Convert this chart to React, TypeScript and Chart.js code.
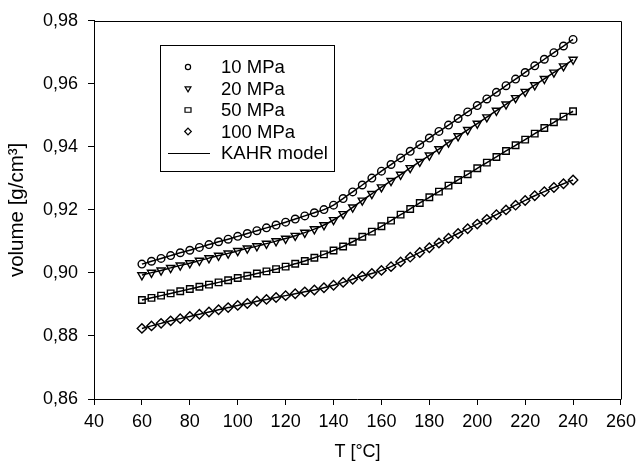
import React, { useEffect, useRef } from "react";
import { Chart, registerables } from "chart.js";

Chart.register(...registerables);

const temperatures = [
  60, 64, 68, 72, 76, 80, 84, 88, 92, 96, 100, 104, 108, 112, 116, 120, 124, 128, 132, 136,
  140, 144, 148, 152, 156, 160, 164, 168, 172, 176, 180, 184, 188, 192, 196, 200, 204, 208,
  212, 216, 220, 224, 228, 232, 236, 240,
];

const mpa10 = [
  0.9028, 0.9037, 0.9046, 0.9055, 0.9064, 0.9072, 0.9081, 0.909, 0.9099, 0.9107, 0.9116,
  0.9125, 0.9134, 0.9143, 0.9152, 0.9161, 0.9171, 0.9181, 0.9191, 0.9201, 0.9215, 0.9236,
  0.9257, 0.9279, 0.9301, 0.9323, 0.9344, 0.9365, 0.9386, 0.9407, 0.9428, 0.9449, 0.9469,
  0.949, 0.9511, 0.9531, 0.9552, 0.9573, 0.9594, 0.9615, 0.9636, 0.9657, 0.9678, 0.9699,
  0.972, 0.9741,
];

const mpa20 = [
  0.8993, 0.9001, 0.9008, 0.9016, 0.9024, 0.9031, 0.9039, 0.9047, 0.9055, 0.9062, 0.907,
  0.9078, 0.9085, 0.9093, 0.9101, 0.9109, 0.9118, 0.9128, 0.9139, 0.9152, 0.9168, 0.9187,
  0.9208, 0.923, 0.9251, 0.9272, 0.9292, 0.9312, 0.9333, 0.9353, 0.9373, 0.9393, 0.9414,
  0.9434, 0.9454, 0.9474, 0.9494, 0.9515, 0.9535, 0.9555, 0.9575, 0.9596, 0.9616, 0.9636,
  0.9656, 0.9677,
];

const mpa50 = [
  0.8914, 0.8921, 0.8928, 0.8935, 0.8942, 0.8949, 0.8956, 0.8963, 0.897, 0.8977, 0.8984,
  0.8991, 0.8998, 0.9005, 0.9012, 0.902, 0.9029, 0.9038, 0.9048, 0.9059, 0.9071, 0.9084,
  0.9099, 0.9115, 0.9131, 0.9148, 0.9166, 0.9185, 0.9203, 0.9222, 0.924, 0.9258, 0.9277,
  0.9295, 0.9313, 0.9332, 0.935, 0.9368, 0.9387, 0.9405, 0.9423, 0.9442, 0.946, 0.9478,
  0.9496, 0.9513,
];

const mpa100 = [
  0.8824, 0.8832, 0.884, 0.8848, 0.8855, 0.8862, 0.8869, 0.8876, 0.8883, 0.889, 0.8897,
  0.8903, 0.891, 0.8916, 0.8922, 0.8928, 0.8934, 0.894, 0.8946, 0.8953, 0.8961, 0.897,
  0.898, 0.899, 0.8998, 0.9008, 0.902, 0.9035, 0.905, 0.9065, 0.908, 0.9095, 0.911, 0.9125,
  0.914, 0.9155, 0.917, 0.9185, 0.92, 0.9215, 0.923, 0.9245, 0.9258, 0.9271, 0.9283, 0.9295,
];

const seriesLabels = ["10 MPa", "20 MPa", "50 MPa", "100 MPa"];
const modelLabel = "KAHR model";
const xTitle = "T [°C]";
const yTitle = "volume [g/cm³]";

const FONT = "'Liberation Sans', Arial, Helvetica, sans-serif";

type Shape = "circle" | "tri" | "rect" | "diamond";
const shapes: Shape[] = ["circle", "tri", "rect", "diamond"];

function drawShape(ctx: CanvasRenderingContext2D, shape: Shape, x: number, y: number, s: number) {
  ctx.beginPath();
  if (shape === "circle") {
    ctx.arc(x, y, s, 0, Math.PI * 2);
  } else if (shape === "tri") {
    const h = s * 0.5;
    const w = s * Math.sqrt(3) / 2;
    ctx.moveTo(x, y + s);
    ctx.lineTo(x + w, y - h);
    ctx.lineTo(x - w, y - h);
    ctx.closePath();
  } else if (shape === "rect") {
    ctx.rect(x - s, y - s * 0.75, 2 * s, 1.5 * s);
  } else {
    ctx.moveTo(x - s, y);
    ctx.lineTo(x, y - s);
    ctx.lineTo(x + s, y);
    ctx.lineTo(x, y + s);
    ctx.closePath();
  }
  ctx.fillStyle = "#fff";
  ctx.fill();
  ctx.stroke();
}

const framePlugin = {
  id: "frameAndLegend",
  afterDraw(chart: any) {
    const { ctx, chartArea } = chart;
    ctx.save();
    ctx.strokeStyle = "#000";
    ctx.lineWidth = 1;
    ctx.beginPath();
    ctx.moveTo(Math.round(chartArea.left) + 0.5, Math.round(chartArea.top) + 0.5);
    ctx.lineTo(Math.round(chartArea.right) + 0.5, Math.round(chartArea.top) + 0.5);
    ctx.lineTo(Math.round(chartArea.right) + 0.5, Math.round(chartArea.bottom) + 0.5);
    ctx.stroke();

    // legend box
    const bx = 160.5, by = 45.5, bw = 174, bh = 126;
    ctx.fillStyle = "#fff";
    ctx.fillRect(bx, by, bw, bh);
    ctx.strokeRect(bx, by, bw, bh);
    ctx.font = `18.5px ${FONT}`;
    ctx.textBaseline = "middle";
    ctx.textAlign = "left";
    const rowY = [67, 88.5, 110, 131.5, 153];
    const sizes = [2.6, 3.4, 3, 3.3];
    for (let i = 0; i < 4; i++) {
      ctx.lineWidth = 1.2;
      ctx.strokeStyle = "#000";
      drawShape(ctx, shapes[i], 188, rowY[i], sizes[i]);
      ctx.fillStyle = "#000";
      ctx.fillText(seriesLabels[i], 221, rowY[i] + 1);
    }
    ctx.lineWidth = 1.2;
    ctx.beginPath();
    ctx.moveTo(168, Math.round(rowY[4]) + 0.5);
    ctx.lineTo(210, Math.round(rowY[4]) + 0.5);
    ctx.stroke();
    ctx.fillText(modelLabel, 221, rowY[4] + 1);
    ctx.restore();
  },
};

const pointStyles: any[] = ["circle", "triangle", "rect", "rectRot"];
const pointRotations = [0, 180, 0, 0];
const pointRadii = [3.8, 4.7, 4.6, 4.7];

export default function App() {
  const ref = useRef<HTMLCanvasElement>(null);
  useEffect(() => {
    if (!ref.current) return;
    const all = [mpa10, mpa20, mpa50, mpa100];
    const markerSets = all.map((vals, i) => ({
      label: seriesLabels[i],
      data: temperatures.map((t, j) => ({ x: t, y: vals[j] })),
      showLine: false,
      pointStyle: pointStyles[i],
      rotation: pointRotations[i],
      pointRadius: pointRadii[i],
      pointBackgroundColor: "#fff",
      pointBorderColor: "#000",
      pointBorderWidth: 1.4,
      order: 1,
    }));
    const modelSets = all.map((vals, i) => ({
      label: modelLabel + " " + seriesLabels[i],
      data: temperatures.map((t, j) => ({ x: t, y: vals[j] })),
      showLine: true,
      borderColor: "#000",
      borderWidth: 1.5,
      pointRadius: 0,
      tension: 0.3,
      order: 0,
    }));
    const chart = new Chart(ref.current, {
      type: "scatter",
      data: { datasets: [...markerSets, ...modelSets] as any },
      plugins: [framePlugin],
      options: {
        animation: false,
        responsive: false,
        devicePixelRatio: 1,
        layout: { padding: { left: 0, top: 20, right: 18, bottom: 0 } },
        plugins: { legend: { display: false }, tooltip: { enabled: false } },
        scales: {
          x: {
            type: "linear",
            min: 40,
            max: 260,
            afterFit: (s: any) => { s.height = 69; },
            ticks: { stepSize: 20, color: "#000", font: { size: 18, family: FONT }, padding: 6, maxRotation: 0 },
            grid: { display: true, drawOnChartArea: false, tickLength: 6, color: "#000", lineWidth: 1 },
            border: { color: "#000", width: 1 },
            title: { display: true, text: xTitle, color: "#000", font: { size: 18, family: FONT }, padding: { top: 0, bottom: 5 } },
          },
          y: {
            type: "linear",
            min: 0.86,
            max: 0.98,
            afterFit: (s: any) => { s.width = 94; },
            ticks: {
              stepSize: 0.02,
              color: "#000",
              font: { size: 18, family: FONT },
              padding: 10,
              callback: (v: any) => (Math.round(Number(v) * 100) / 100).toFixed(2).replace(".", ","),
            },
            grid: { display: true, drawOnChartArea: false, tickLength: 6, color: "#000", lineWidth: 1 },
            border: { color: "#000", width: 1 },
            title: { display: true, text: yTitle, color: "#000", font: { size: 20.5, family: FONT }, padding: { top: 5.5, bottom: 0 } },
          },
        },
      } as any,
    });
    return () => chart.destroy();
  }, []);
  return (
    <canvas
      ref={ref}
      width={642}
      height={468}
      style={{ position: "fixed", left: 0, top: 0, width: 642, height: 468, background: "#fff" }}
    />
  );
}
